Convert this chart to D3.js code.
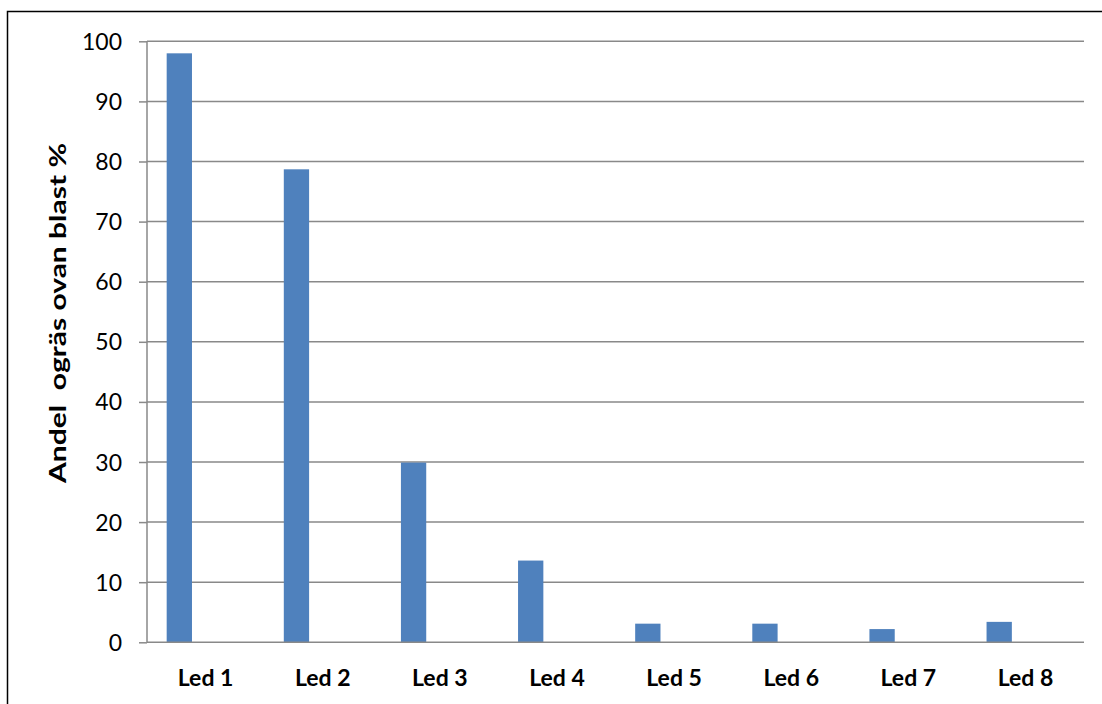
<!DOCTYPE html>
<html><head><meta charset="utf-8">
<script src="https://cdn.jsdelivr.net/npm/d3@7"></script>
<style>body{margin:0;background:#fff}svg{display:block}text{font-family:Lato,"Open Sans",sans-serif}</style>
</head><body>
<svg id="c" width="1102" height="704"></svg>
<script>
const categories = ["Led 1","Led 2","Led 3","Led 4","Led 5","Led 6","Led 7","Led 8"];
const values = [98, 78.7, 29.9, 13.6, 3.1, 3.1, 2.2, 3.4];
const yTicks = [0,10,20,30,40,50,60,70,80,90,100];
const yTitle = "Andel  ogräs ovan blast %";

const svg = d3.select("#c");
const m = {left:147, right:1084, top:41.3, bottom:642.3};
svg.append("rect").attr("x",7.5).attr("y",11.5).attr("width",1110).attr("height",720)
  .attr("fill","none").attr("stroke","#000").attr("stroke-width",1.5);

const x = d3.scaleBand().domain(categories).range([m.left,m.right]).padding(0);
const y = d3.scaleLinear().domain([0,100]).range([m.bottom,m.top]);

// gridlines
svg.append("g").selectAll("line").data(yTicks.filter(d=>d>0)).join("line")
  .attr("x1",m.left).attr("x2",m.right).attr("y1",d=>y(d)).attr("y2",d=>y(d))
  .attr("stroke","#898989").attr("stroke-width",1.5);

// bars
const bw = x.bandwidth();
svg.append("g").selectAll("rect").data(values).join("rect")
  .attr("x",(d,i)=>x(categories[i])+bw*0.168)
  .attr("width",bw*0.216)
  .attr("y",d=>y(d)).attr("height",d=>y(0)-y(d))
  .attr("fill","#4F81BD");

// y axis
const ya = svg.append("g").attr("transform",`translate(${m.left},0)`)
  .call(d3.axisLeft(y).tickValues(yTicks).tickSize(8).tickPadding(17));
ya.select(".domain").attr("stroke","#898989").attr("stroke-width",1.5).attr("d",`M0,${m.top}V${m.bottom}`);
ya.selectAll(".tick line").attr("stroke","#898989").attr("stroke-width",1.5);
ya.selectAll(".tick text").attr("font-size",23).attr("fill","#000").attr("dy","0.35em").attr("font-family","Lato,'Open Sans',sans-serif");

// x baseline
svg.append("line").attr("x1",m.left).attr("x2",m.right).attr("y1",y(0)).attr("y2",y(0))
  .attr("stroke","#898989").attr("stroke-width",1.5);

// x labels
svg.append("g").selectAll("text").data(categories).join("text")
  .attr("x",d=>x(d)+bw/2).attr("y",686).attr("text-anchor","middle")
  .attr("font-size",23).attr("font-weight","bold").attr("fill","#000").text(d=>d);

// y title
svg.append("text").attr("transform",`translate(66,313) rotate(-90)`)
  .attr("text-anchor","middle").attr("font-size",23).attr("font-weight","bold").attr("fill","#000")
  .attr("font-family","'Open Sans',Lato,sans-serif")
  .attr("textLength",340).attr("lengthAdjust","spacingAndGlyphs")
  .attr("xml:space","preserve").style("white-space","pre").text(yTitle);
</script>
</body></html>
